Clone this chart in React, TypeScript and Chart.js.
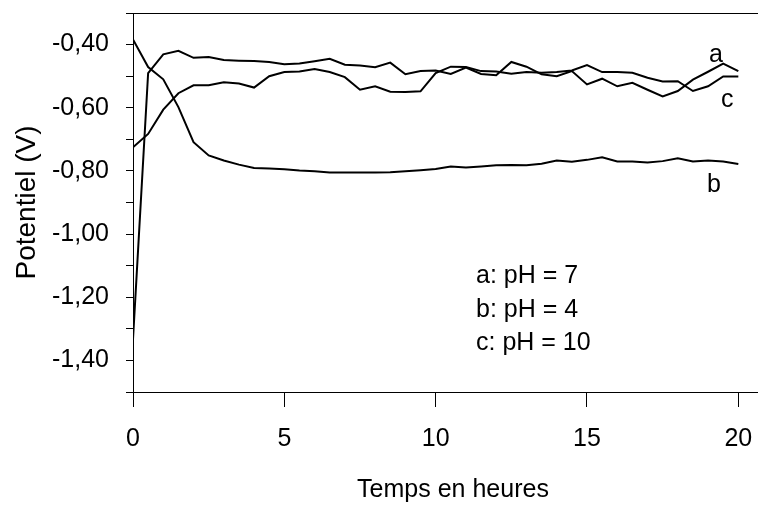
import React, { useEffect, useRef } from "react";
import { Chart, registerables } from "chart.js";

Chart.register(...registerables);

// Time in hours (every 0.5 h)
const hours: number[] = [
  0, 0.5, 1, 1.5, 2, 2.5, 3, 3.5, 4, 4.5, 5, 5.5, 6, 6.5, 7, 7.5, 8, 8.5, 9, 9.5, 10,
  10.5, 11, 11.5, 12, 12.5, 13, 13.5, 14, 14.5, 15, 15.5, 16, 16.5, 17, 17.5, 18, 18.5,
  19, 19.5, 20,
];

// a: pH = 7
const potentialA: number[] = [
  -1.333, -0.49, -0.431, -0.42, -0.442, -0.439, -0.449, -0.451, -0.452, -0.455, -0.462,
  -0.46, -0.453, -0.445, -0.464, -0.466, -0.472, -0.457, -0.494, -0.484, -0.482, -0.493,
  -0.473, -0.493, -0.497, -0.455, -0.47, -0.494, -0.5, -0.484, -0.526, -0.508, -0.532,
  -0.521, -0.543, -0.564, -0.547, -0.511, -0.486, -0.46, -0.484,
];

// b: pH = 4
const potentialB: number[] = [
  -0.384, -0.471, -0.51, -0.598, -0.709, -0.751, -0.767, -0.78, -0.791, -0.792, -0.795,
  -0.799, -0.801, -0.805, -0.805, -0.805, -0.805, -0.804, -0.801, -0.798, -0.794, -0.786,
  -0.789, -0.786, -0.782, -0.781, -0.782, -0.777, -0.767, -0.771, -0.765, -0.757, -0.77,
  -0.77, -0.773, -0.769, -0.76, -0.77, -0.767, -0.77, -0.778,
];

// c: pH = 10
const potentialC: number[] = [
  -0.725, -0.683, -0.606, -0.554, -0.529, -0.529, -0.519, -0.523, -0.536, -0.5, -0.487,
  -0.485, -0.477, -0.487, -0.503, -0.543, -0.532, -0.549, -0.55, -0.548, -0.49, -0.47,
  -0.471, -0.484, -0.485, -0.492, -0.487, -0.489, -0.487, -0.482, -0.465, -0.487, -0.487,
  -0.489, -0.505, -0.517, -0.516, -0.547, -0.532, -0.501, -0.501,
];

const legendLines: string[] = ["a: pH = 7", "b: pH = 4", "c: pH = 10"];
const curveLabels: string[] = ["a", "b", "c"];
const xTitle = "Temps en heures";
const yTitle = "Potentiel (V)";

const FONT = "'Liberation Sans', Arial, sans-serif";

const textPlugin = {
  id: "textPlugin",
  afterDraw(chart: any) {
    const ctx = chart.ctx as CanvasRenderingContext2D;
    ctx.save();
    ctx.fillStyle = "#000";
    ctx.textAlign = "left";
    ctx.textBaseline = "alphabetic";
    ctx.font = `25px ${FONT}`;
    const baselines = [283, 317, 350];
    legendLines.forEach((t, i) => ctx.fillText(t, 476, baselines[i]));
    // curve labels
    ctx.fillText(curveLabels[0], 709, 62);
    ctx.fillText(curveLabels[1], 707, 192);
    ctx.fillText(curveLabels[2], 721, 107);
    // x axis title
    ctx.textAlign = "center";
    ctx.fillText(xTitle, 453, 497);
    ctx.restore();
  },
};

export default function App() {
  const ref = useRef<HTMLCanvasElement | null>(null);
  useEffect(() => {
    if (!ref.current) return;
    const mk = (d: number[]) => hours.map((h, i) => ({ x: h, y: d[i] }));
    const ds = (label: string, d: number[]) => ({
      label,
      data: mk(d),
      borderColor: "#000",
      borderWidth: 2,
      pointRadius: 0,
      fill: false,
      tension: 0,
    });
    const chart = new Chart(ref.current, {
      type: "line",
      data: {
        datasets: [
          ds(legendLines[0], potentialA),
          ds(legendLines[1], potentialB),
          ds(legendLines[2], potentialC),
        ],
      },
      options: {
        animation: false,
        responsive: true,
        maintainAspectRatio: false,
        layout: { padding: { top: 13, left: 0, right: 0, bottom: 0 } },
        plugins: { legend: { display: false }, tooltip: { enabled: false } },
        scales: {
          x: {
            type: "linear",
            min: 0,
            max: 20.65,
            afterFit: (s: any) => {
              s.height = 115;
              s.paddingLeft = 0;
              s.paddingRight = 0;
              s.paddingTop = 0;
              s.paddingBottom = 0;
            },
            ticks: {
              stepSize: 5,
              includeBounds: false,
              autoSkip: false,
              color: "#000",
              font: { family: FONT, size: 25 },
              padding: 17,
              maxRotation: 0,
              callback: (v: any) => String(v),
            },
            grid: {
              drawOnChartArea: false,
              tickLength: 15,
              tickColor: "#000",
              color: "#000",
            },
            border: { color: "#000", width: 1 },
          },
          y: {
            type: "linear",
            min: -1.5,
            max: -0.3,
            afterFit: (s: any) => {
              s.width = 133;
              s.paddingLeft = 0;
              s.paddingRight = 0;
              s.paddingTop = 0;
              s.paddingBottom = 0;
            },
            ticks: {
              stepSize: 0.1,
              autoSkip: false,
              color: "#000",
              font: { family: FONT, size: 25 },
              padding: 17,
              callback: (v: any) => {
                const k = Math.round(Number(v) * 10);
                if (k % 2 !== 0 || k === -15) return "";
                return (k / 10).toFixed(2).replace(".", ",");
              },
            },
            grid: {
              drawOnChartArea: true,
              tickLength: 7,
              tickColor: "#000",
              color: (c: any) =>
                c.tick && Math.abs(c.tick.value + 0.3) < 1e-6 ? "#000" : "rgba(0,0,0,0)",
            },
            border: { color: "#000", width: 1 },
            title: {
              display: true,
              text: yTitle,
              color: "#000",
              font: { family: FONT, size: 28 },
              padding: { top: 10, bottom: 0 },
            },
          },
        },
      },
      plugins: [textPlugin],
    });
    return () => chart.destroy();
  }, []);
  return (
    <div style={{ position: "fixed", left: 0, top: 0, width: 758, height: 507, background: "#fff" }}>
      <canvas ref={ref} />
    </div>
  );
}
